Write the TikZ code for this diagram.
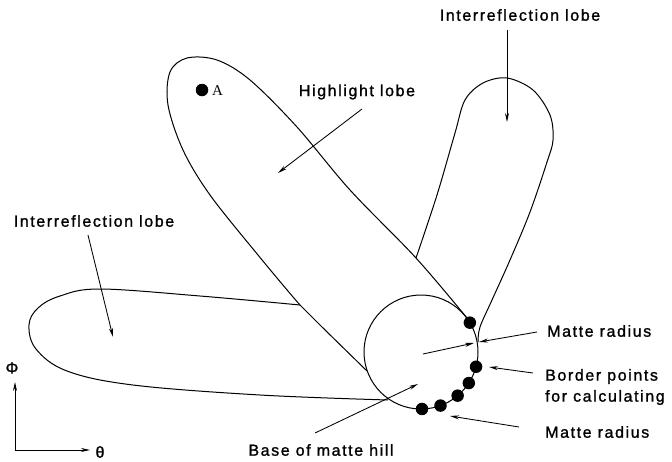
\documentclass[tikz,border=0pt]{standalone}
\usepackage{fontspec}
\setmainfont{Liberation Sans}
\newfontfamily\lab[LetterSpace=10,FakeBold=1.2]{Liberation Sans}
\newfontfamily\serifA{Liberation Serif}
\usetikzlibrary{arrows.meta,calc}
\begin{document}
\begin{tikzpicture}[x=1pt,y=-1pt,
  outline/.style={line width=1pt},
  ptr/.style={line width=0.85pt,-{Stealth[length=9pt,width=4pt]}},
  lbl/.style={font=\lab\fontsize{16}{21}\selectfont,inner sep=0pt},
  dotn/.style={circle,fill=black,inner sep=0pt,minimum size=12.5pt}]
\useasboundingbox (0,0) rectangle (672,461);
% base of matte hill
\coordinate (c) at (421,352);
\draw[outline] (c) circle[radius=57];
% highlight lobe
\draw[outline] plot[smooth,tension=0.55] coordinates {(367,371) (320,325) (300,305) (258,255) (210,195) (183,150) (168,105) (170,72) (187,58) (217,60) (250,80) (297,127) (350,190) (416,258) (467,318)};
% upper interreflection lobe
\draw[outline] plot[smooth,tension=0.55] coordinates {(416,258) (437,195) (455,133) (465,100) (483,83) (507,78) (533,90) (550,115) (553,140) (547,162) (530,212) (510,260) (492,300) (480,327) (478,342)};
% left interreflection lobe
\draw[outline] plot[smooth,tension=0.6] coordinates {(300,305) (200,296) (100,289) (60,296) (38,308) (29,325) (36,349) (67,371) (133,385) (260,395) (388,400)};
% border points
\node[dotn] (d1) at ($(c)+(-31:57)$) {};
\node[dotn] (d2) at ($(c)+(15:57)$) {};
\node[dotn] (d3) at ($(c)+(33:57)$) {};
\node[dotn] (d4) at ($(c)+(50:57)$) {};
\node[dotn] (d5) at ($(c)+(70:57)$) {};
\node[dotn] (d6) at ($(c)+(89:57)$) {};
% point A
\node[dotn] (a) at (202,90) {};
\node[font=\serifA\fontsize{15}{18}\selectfont,inner sep=0pt,anchor=west] (al) at (212,91) {A};
% labels
\node[lbl] (t1) at (520,15) {Interreflection lobe};
\node[lbl] (t2) at (357,92) {Highlight lobe};
\node[lbl] (t3) at (94,221) {Interreflection lobe};
\node[lbl,anchor=west] (t4) at (547,331) {Matte radius};
\node[lbl,anchor=west,align=left] (t5) at (545,387) {Border points\\for calculating};
\node[lbl,anchor=west] (t6) at (545,432) {Matte radius};
\node[lbl] (t7) at (321,450) {Base of matte hill};
% arrow targets
\coordinate (s1) at (507,30);  \coordinate (e1) at (507,122);
\coordinate (s2) at (362,109); \coordinate (e2) at (278,173);
\coordinate (s3) at (88,235);  \coordinate (e3) at (113,337);
\coordinate (s4) at (537,332); \coordinate (e4) at (479,342);
\coordinate (s4b) at (423,354); \coordinate (e4b) at (474,343);
\coordinate (s5) at (533,373); \coordinate (e5) at (489,367);
\coordinate (s6) at (519,427); \coordinate (e6) at (450,416);
\coordinate (s7) at (315,433); \coordinate (e7) at (418,384);
\draw[ptr] (s1) -- (e1);
\draw[ptr] (s2) -- (e2);
\draw[ptr] (s3) -- (e3);
\draw[ptr] (s4) -- (e4);
\draw[ptr] (s4b) -- (e4b);
\draw[ptr] (s5) -- (e5);
\draw[ptr] (s6) -- (e6);
\draw[ptr] (s7) -- (e7);
% axes
\coordinate (o) at (15,450);
\coordinate (ya) at (15,382);
\coordinate (xa) at (90,450);
\draw[ptr] (o) -- (ya);
\draw[ptr] (o) -- (xa);
\node[lbl] (phi) at (12,368) {Φ};
\node[lbl] (th) at (100,452) {θ};
\end{tikzpicture}
\end{document}
